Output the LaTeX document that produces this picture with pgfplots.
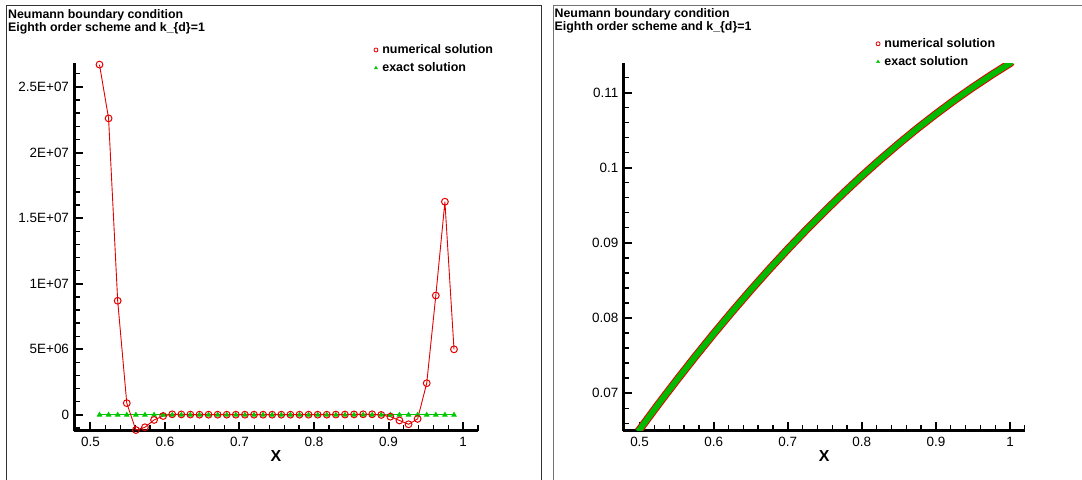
\documentclass[border=0pt]{standalone}
\usepackage{pgfplots}
\pgfplotsset{compat=1.18}
\usepackage{fontspec}
\setmainfont{Liberation Sans}
\definecolor{tred}{RGB}{228,0,0}
\definecolor{tgreen}{RGB}{0,200,0}
\pgfplotsset{tec/.style={
  scale only axis,
  axis lines*=left,
  axis line style={line width=3bp, black},
  xmin=0.478, xmax=1.02,
  xtick={0.5,0.6,0.7,0.8,0.9,1},
  xticklabels={0.5,0.6,0.7,0.8,0.9,1},
  minor xtick={0.48,0.52,0.54,0.56,0.58,0.62,0.64,0.66,0.68,0.72,0.74,0.76,0.78,0.82,0.84,0.86,0.88,0.92,0.94,0.96,0.98,1.02},
  tick align=inside,
  major tick length=9bp, minor tick length=5.5bp,
  major tick style={line width=2bp, black},
  minor tick style={line width=1.3bp, black},
  tick label style={font=\fontsize{13.5}{16}\selectfont},
  xticklabel style={anchor=base, yshift=-16.3bp},
  yticklabel style={anchor=east, xshift=-1.5bp},
  scaled y ticks=false, scaled x ticks=false,
  xlabel={X},
  xlabel style={at={(axis description cs:0.5,0)}, anchor=base, yshift=-30.8bp, font=\bfseries\fontsize{16}{18}\selectfont},
  legend style={draw=none, fill=none, inner sep=0pt, outer sep=0pt,
    font=\bfseries\fontsize{12.5}{14}\selectfont,
    nodes={inner ysep=2bp, inner xsep=3bp}, row sep=3.5bp, column sep=0pt},
  legend cell align=left,
  legend image code/.code={\path (-3bp,0bp) (3bp,0bp); \path[##1] plot[only marks] coordinates {(0bp,0bp)};},
}}
\begin{document}
\begin{tikzpicture}[x=1bp,y=1bp]
\useasboundingbox (0,0) rectangle (1082,480);
% left panel
\begin{axis}[tec, at={(74bp,49.3bp)}, anchor=south west, width=404bp, height=367.4bp,
  ymin=-1.2e6, ymax=2.68e7,
  ytick={0,5e6,1e7,1.5e7,2e7,2.5e7},
  yticklabels={0,5E+06,1E+07,1.5E+07,2E+07,2.5E+07},
  minor ytick={-1e6,1e6,2e6,3e6,4e6,6e6,7e6,8e6,9e6,11e6,12e6,13e6,14e6,16e6,17e6,18e6,19e6,21e6,22e6,23e6,24e6,26e6},
  legend style={at={(axis description cs:0.739,1.0117)}, anchor=west}]
\addlegendimage{tred, mark=o, mark size=2bp, line width=0.8bp}
\addlegendentry{numerical solution}
\addlegendimage{tgreen, mark=triangle*, mark size=1.8bp}
\addlegendentry{exact solution}
\addplot[forget plot, tgreen, line width=1bp, mark=triangle*, mark size=2.4bp] coordinates {
(0.5122,0.0668) (0.5244,0.0684) (0.5366,0.0700) (0.5488,0.0715) (0.5610,0.0731)
(0.5732,0.0746) (0.5854,0.0761) (0.5976,0.0776) (0.6098,0.0791) (0.6220,0.0805)
(0.6341,0.0819) (0.6463,0.0833) (0.6585,0.0847) (0.6707,0.0860) (0.6829,0.0874)
(0.6951,0.0886) (0.7073,0.0899) (0.7195,0.0912) (0.7317,0.0924) (0.7439,0.0936)
(0.7561,0.0948) (0.7683,0.0960) (0.7805,0.0971) (0.7927,0.0983) (0.8049,0.0994)
(0.8171,0.1004) (0.8293,0.1015) (0.8415,0.1025) (0.8537,0.1035) (0.8659,0.1045)
(0.8780,0.1055) (0.8902,0.1064) (0.9024,0.1073) (0.9146,0.1083) (0.9268,0.1091)
(0.9390,0.1100) (0.9512,0.1108) (0.9634,0.1116) (0.9756,0.1124) (0.9878,0.1132)};
\addplot[forget plot, tred, line width=0.9bp, mark=o, mark size=3.4bp, mark options={line width=1bp}] coordinates {
(0.5122,2.67e7) (0.5244,2.26e7) (0.5366,8.7e6) (0.5488,9.0e5) (0.5610,-1.15e6)
(0.5732,-9.4e5) (0.5854,-3.8e5) (0.5976,-8e4) (0.6098,5e4) (0.6220,4e4)
(0.6341,3e4) (0.6463,2e4) (0.6585,2e4) (0.6707,2e4) (0.6829,2e4)
(0.6951,2e4) (0.7073,2e4) (0.7195,2e4) (0.7317,2e4) (0.7439,2e4)
(0.7561,2e4) (0.7683,2e4) (0.7805,2e4) (0.7927,2e4) (0.8049,2e4)
(0.8171,2e4) (0.8293,3e4) (0.8415,3e4) (0.8537,4e4) (0.8659,5e4)
(0.8780,5e4) (0.8902,0) (0.9024,-1.3e5) (0.9146,-4.2e5) (0.9268,-7.1e5)
(0.9390,-3.0e5) (0.9512,2.42e6) (0.9634,9.1e6) (0.9756,1.625e7) (0.9878,5.0e6)};
\end{axis}
% right panel
\begin{axis}[tec, at={(623.3bp,49.3bp)}, anchor=south west, width=401.5bp, height=367.4bp,
  ymin=0.065, ymax=0.1139,
  ytick={0.07,0.08,0.09,0.1,0.11},
  yticklabels={0.07,0.08,0.09,0.1,0.11},
  minor ytick={0.066,0.068,0.072,0.074,0.076,0.078,0.082,0.084,0.086,0.088,0.092,0.094,0.096,0.098,0.102,0.104,0.106,0.108,0.112},
  legend style={at={(axis description cs:0.626,1.0286)}, anchor=west}]
\addlegendimage{tred, mark=o, mark size=2bp, line width=0.8bp}
\addlegendentry{numerical solution}
\addlegendimage{tgreen, mark=triangle*, mark size=1.8bp}
\addlegendentry{exact solution}
\addplot[forget plot, tred, line width=7.8bp] coordinates {
(0.498,0.0649) (0.500,0.06515) (0.525,0.06848) (0.550,0.07171) (0.575,0.07485) (0.600,0.07790)
(0.625,0.08085) (0.650,0.08371) (0.675,0.08648) (0.700,0.08915) (0.725,0.09173)
(0.750,0.09421) (0.775,0.09660) (0.800,0.09890) (0.825,0.10110) (0.850,0.10321)
(0.875,0.10523) (0.900,0.10715) (0.925,0.10898) (0.950,0.11071) (0.975,0.11235)
(1.000,0.11390) (1.002,0.1141)};
\addplot[forget plot, tgreen!93!black, line width=5.8bp] coordinates {
(0.498,0.0649) (0.500,0.06515) (0.525,0.06848) (0.550,0.07171) (0.575,0.07485) (0.600,0.07790)
(0.625,0.08085) (0.650,0.08371) (0.675,0.08648) (0.700,0.08915) (0.725,0.09173)
(0.750,0.09421) (0.775,0.09660) (0.800,0.09890) (0.825,0.10110) (0.850,0.10321)
(0.875,0.10523) (0.900,0.10715) (0.925,0.10898) (0.950,0.11071) (0.975,0.11235)
(1.000,0.11390) (1.002,0.1141)};
\end{axis}
% titles
\node[anchor=base west, inner sep=0pt, font=\bfseries\fontsize{12.4}{15}\selectfont] at (8,461.7) {Neumann boundary condition};
\node[anchor=base west, inner sep=0pt, font=\bfseries\fontsize{12.4}{15}\selectfont] at (8,448.3) {Eighth order scheme and k\_\{d\}=1};
\node[anchor=base west, inner sep=0pt, font=\bfseries\fontsize{12.4}{15}\selectfont] at (554.5,462.7) {Neumann boundary condition};
\node[anchor=base west, inner sep=0pt, font=\bfseries\fontsize{12.4}{15}\selectfont] at (554.5,449) {Eighth order scheme and k\_\{d\}=1};
% frames
\draw[line width=1bp, black!80] (6.5,-5) -- (6.5,474.5) -- (541.5,474.5) -- (541.5,-5);
\draw[line width=1bp, black!55] (553.5,-5) -- (553.5,474.5) -- (1090,474.5);
\end{tikzpicture}
\end{document}
